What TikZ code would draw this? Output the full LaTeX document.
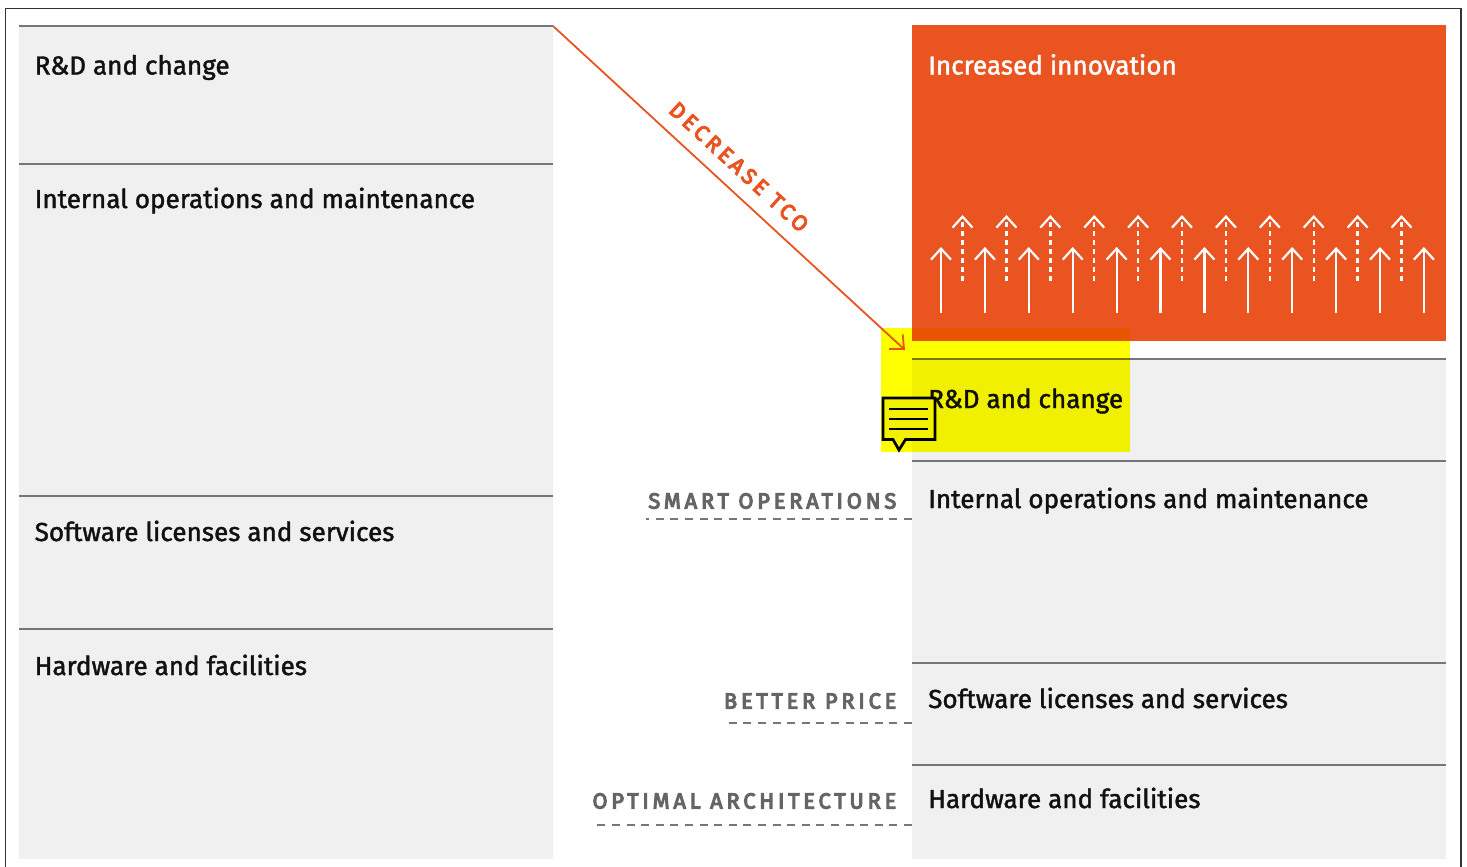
\documentclass[tikz,border=0pt]{standalone}
\usepackage{fontspec}
\setmainfont[FakeBold=1.6]{Fira Sans}
\newfontfamily\spaced[LetterSpace=17.5,FakeBold=5]{Fira Sans}
\usetikzlibrary{arrows.meta}
\definecolor{brand}{HTML}{E95420}
\definecolor{band}{HTML}{F0F0F0}
\definecolor{rulec}{HTML}{777777}
\definecolor{ink}{HTML}{111111}
\definecolor{hl}{rgb}{1,1,0}
\definecolor{hlband}{HTML}{F2F200}
\tikzset{
 x=1pt,y=-1pt,
 bandfill/.style={fill=band,draw=none},
 rulel/.style={draw=rulec,line width=2.1pt},
 item/.style={anchor=base west,inner sep=0pt,text=ink,font=\fontsize{26.1}{28}\selectfont},
 tag/.style={anchor=base east,inner sep=0pt,text=rulec!85!black,font=\spaced\fontsize{21.8}{24}\selectfont},
 dashl/.style={draw=rulec,line width=2.1pt,dash pattern=on 8pt off 6.6pt},
 solidup/.style={draw=white,line width=2.2pt,-{Straight Barb[length=11pt,width=20pt,line width=2.2pt]}},
 dashup/.style={draw=white,line width=2.4pt,dash pattern=on 5pt off 4pt,-{Straight Barb[length=11pt,width=20pt,line width=2.2pt,sep=0pt]}},
}
\begin{document}
\begin{tikzpicture}
\useasboundingbox (0,0) rectangle (1467,867);
\fill[white] (0,0) rectangle (1467,867);
\draw[draw=black!80,line width=1.6pt] (5.5,867) -- (5.5,8.5) -- (1461,8.5) -- (1461,867);
% left column
\fill[bandfill] (19,26) rectangle (553,859);
\foreach \y in {26,164,496,629} \draw[rulel] (19,\y) -- (553,\y);
% right column
\fill[bandfill] (912,359) rectangle (1446,859);
\foreach \y in {359,461,663,765} \draw[rulel] (912,\y) -- (1446,\y);
\fill[brand] (912,25) rectangle (1446,341);
% texts
\node[item] (l1) at (34.5,74.5) {R\&D and change};
\node[item] (l2) at (34.5,208) {Internal operations and maintenance};
\node[item] (l3) at (34.5,541) {Software licenses and services};
\node[item] (l4) at (34.5,675) {Hardware and facilities};
\node[item,text=white] (r0) at (928,74.5) {Increased innovation};
\node[item] (r1) at (928,408) {R\&D and change};
\node[item] (r2) at (928,508) {Internal operations and maintenance};
\node[item] (r3) at (928,708) {Software licenses and services};
\node[item] (r4) at (928,808) {Hardware and facilities};
\node[tag] (t1) at (896.5,508.5) {SMART OPERATIONS};
\node[tag] (t2) at (896.5,708.5) {BETTER PRICE};
\node[tag] (t3) at (896.5,808.5) {OPTIMAL ARCHITECTURE};
% dashed leaders
\coordinate (d1a) at (646,519); \coordinate (d1b) at (912,519);
\coordinate (d2a) at (728,723); \coordinate (d2b) at (912,723);
\coordinate (d3a) at (595,825); \coordinate (d3b) at (912,825);
\draw[dashl] (d1b) -- (d1a);
\draw[dashl] (d2b) -- (d2a);
\draw[dashl] (d3b) -- (d3a);
% arrows inside the orange block
\foreach \i in {0,...,11}{
  \coordinate (sa\i) at ({941+43.9*\i},313);
  \coordinate (sb\i) at ({941+43.9*\i},247);
  \draw[solidup] (sa\i) -- (sb\i);
}
\foreach \i in {0,...,10}{
  \coordinate (da\i) at ({962.5+43.9*\i},281);
  \coordinate (db\i) at ({962.5+43.9*\i},215);
  \draw[dashup] (da\i) -- (db\i);
}
% decrease arrow
\coordinate (ds) at (553,26);
\coordinate (de) at (905,350);
\draw[brand,line width=1.8pt,-{Straight Barb[length=11pt,width=20pt,line width=1.8pt]}] (ds) -- (de);
\node[anchor=center,inner sep=0pt,rotate=-42.6,text=brand,font=\spaced\fontsize{21.8}{24}\selectfont] (tco) at (739,167) {DECREASE TCO};
% highlight
\fill[hl,blend mode=multiply] (881,328) rectangle (1130,452);
% comment icon
\draw[black,line width=2.7pt,line join=miter,fill=hlband] (883,398) -- (935,398) -- (935,439.5) -- (905.5,439.5) -- (899,450) -- (893,439.5) -- (883,439.5) -- cycle;
\foreach \y in {409,419,429} \draw[black,line width=2.2pt] (889,\y) -- (928,\y);
\end{tikzpicture}
\end{document}
